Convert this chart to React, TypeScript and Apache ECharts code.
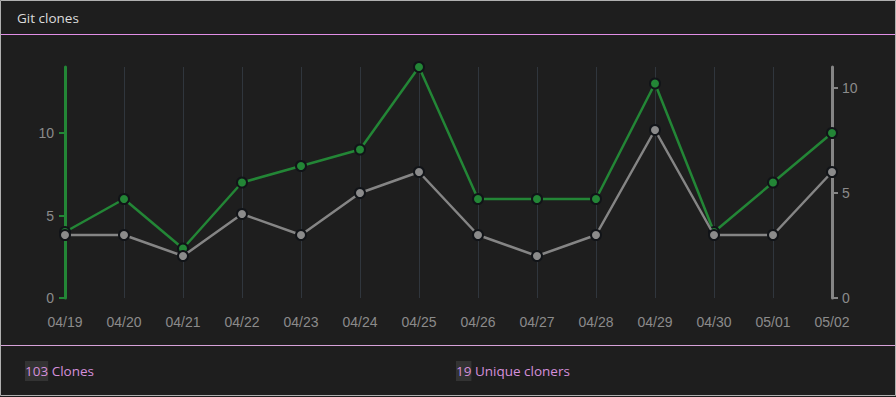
import React, { useEffect, useRef } from "react";
import * as echarts from "echarts";

const dates = ["04/19", "04/20", "04/21", "04/22", "04/23", "04/24", "04/25", "04/26", "04/27", "04/28", "04/29", "04/30", "05/01", "05/02"];
const clones = [4, 6, 3, 7, 8, 9, 14, 6, 6, 6, 13, 4, 7, 10];
const uniqueCloners = [3, 3, 2, 4, 3, 5, 6, 3, 2, 3, 8, 3, 3, 6];
const yTicks = [0, 5, 10];
const totalClones = 103;
const totalUnique = 19;

const GREEN = "#238636";
const GRAY = "#858585";
const FONT = "'Open Sans', 'Noto Sans', sans-serif";
const AXFONT = "'Liberation Sans', Arial, sans-serif";

export default function App() {
  const ref = useRef<HTMLDivElement>(null);
  useEffect(() => {
    document.body.style.margin = "0";
    const chart = echarts.init(ref.current!, null, { renderer: "svg" });
    chart.setOption({
      animation: false,
      backgroundColor: "#1e1e1e",
      textStyle: { fontFamily: FONT },
      grid: { left: 65, right: 64, top: 67, bottom: 99 },
      xAxis: {
        type: "category",
        data: dates,
        boundaryGap: false,
        axisLine: { show: false },
        axisTick: { show: false },
        axisLabel: { color: "#8b8b8b", fontSize: 14, margin: 17, fontFamily: AXFONT },
        splitLine: { show: true, lineStyle: { color: "#30363d", width: 1 } },
      },
      yAxis: [
        {
          type: "value",
          min: 0,
          max: 14,
          interval: 5,
          position: "left",
          axisLine: { show: true, lineStyle: { color: GREEN, width: 3 } },
          axisTick: { show: true, length: 6, customValues: yTicks, lineStyle: { color: GREEN, width: 2 } },
          axisLabel: { color: "#8b8b8b", fontSize: 14, margin: 11, customValues: yTicks, fontFamily: AXFONT },
          splitLine: { show: false },
        },
        {
          type: "value",
          min: 0,
          max: 11,
          interval: 5,
          position: "right",
          axisLine: { show: true, lineStyle: { color: GRAY, width: 3 } },
          axisTick: { show: true, length: 6, customValues: yTicks, lineStyle: { color: GRAY, width: 2 } },
          axisLabel: { color: "#8b8b8b", fontSize: 14, margin: 10, customValues: yTicks, fontFamily: AXFONT },
          splitLine: { show: false },
        },
      ],
      series: [
        {
          name: "Clones",
          type: "line",
          yAxisIndex: 0,
          data: clones,
          symbol: "circle",
          symbolSize: 10,
          lineStyle: { color: GREEN, width: 2.5 },
          itemStyle: { color: GREEN, borderColor: "#111418", borderWidth: 2 },
          z: 3,
        },
        {
          name: "Unique cloners",
          type: "line",
          yAxisIndex: 1,
          data: uniqueCloners,
          symbol: "circle",
          symbolSize: 10,
          lineStyle: { color: GRAY, width: 2.5 },
          itemStyle: { color: "#8b8b8b", borderColor: "#111418", borderWidth: 2 },
          z: 4,
        },
      ],
      graphic: [
        { type: "text", left: 17, top: 11, style: { text: "Git clones", fill: "#dcdcdc", fontSize: 13.5, fontFamily: FONT } },
        { type: "line", shape: { x1: 0, y1: 34.5, x2: 896, y2: 34.5 }, style: { stroke: "#e08ee6", lineWidth: 1 } },
        { type: "line", shape: { x1: 0, y1: 345.5, x2: 896, y2: 345.5 }, style: { stroke: "#d6a2d9", lineWidth: 1 } },
        {
          type: "text",
          left: 25,
          top: 361,
          style: {
            text: "{n|" + totalClones + "} Clones",
            fill: "#d48fda",
            fontSize: 13.5,
            fontFamily: FONT,
            rich: { n: { backgroundColor: "#333333", fill: "#d48fda", fontSize: 13.5, fontFamily: FONT, padding: [3, 0, 3, 0] } },
          },
        },
        {
          type: "text",
          left: 456,
          top: 361,
          style: {
            text: "{n|" + totalUnique + "} Unique cloners",
            fill: "#d48fda",
            fontSize: 13.5,
            fontFamily: FONT,
            rich: { n: { backgroundColor: "#333333", fill: "#d48fda", fontSize: 13.5, fontFamily: FONT, padding: [3, 0, 3, 0] } },
          },
        },
        { type: "rect", shape: { x: 0.5, y: 0.5, width: 895, height: 395 }, style: { fill: "none", stroke: "#b0b0b0", lineWidth: 1 }, silent: true },
      ],
    });
    return () => chart.dispose();
  }, []);
  return <div ref={ref} style={{ position: "fixed", left: 0, top: 0, width: 896, height: 397 }} />;
}
